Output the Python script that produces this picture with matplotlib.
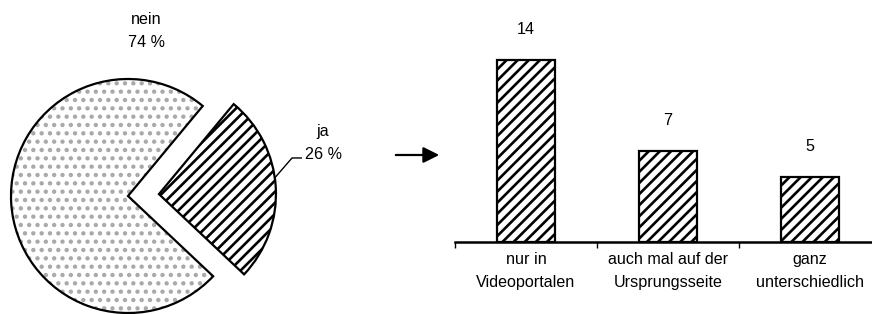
import numpy as np
import matplotlib.pyplot as plt
from matplotlib.patches import FancyArrowPatch, Wedge

# Daten
pie_labels = ['ja', 'nein']
pie_values = [26, 74]
bar_labels = ['nur in\nVideoportalen', 'auch mal auf der\nUrsprungsseite', 'ganz\nunterschiedlich']
bar_values = [14, 7, 5]

plt.rcParams['font.family'] = ['Liberation Sans', 'DejaVu Sans']
plt.rcParams['font.size'] = 11.6
plt.rcParams['hatch.linewidth'] = 1.9

fig = plt.figure(figsize=(8.72, 3.14), dpi=100)

# --- Kreisdiagramm ---
ax_pie = fig.add_axes([0, 0, 400 / 872, 1])
start = -43.3
explode = 0.265
wedges, _ = ax_pie.pie(pie_values, startangle=start, explode=[explode, 0],
                       colors=['white', 'white'], counterclock=True,
                       wedgeprops=dict(edgecolor='black', linewidth=1.6))
wedges[0].set_hatch('///')

# "nein"-Segment: graue Punkte, darüber schwarze Kontur
w = wedges[1]
w.set_hatch('..')
w.set_edgecolor('#a8a8a8')
w.set_linewidth(0)
outline = Wedge(w.center, w.r, w.theta1, w.theta2, facecolor='none',
                edgecolor='black', linewidth=1.6)
ax_pie.add_patch(outline)

ax_pie.set_xlim(-128 / 117, 272 / 117)
ax_pie.set_ylim(-118 / 117, 196 / 117)
ax_pie.set_aspect('auto')
ax_pie.axis('off')

ax_pie.text(0.154, 1.41, f'{pie_labels[1]}\n{pie_values[1]} %', ha='center', va='center',
            linespacing=1.65)
ax_pie.text(1.667, 0.45, f'{pie_labels[0]}\n{pie_values[0]} %', ha='center', va='center',
            linespacing=1.65)

# Verbindungslinie zum "ja"-Label
mid = np.deg2rad(start + pie_values[0] / 100 * 360 / 2)
cx, cy = explode * np.cos(mid), explode * np.sin(mid)
th = np.deg2rad(8)
ax_pie.plot([cx + np.cos(th), 1.402, 1.487], [cy + np.sin(th), 0.325, 0.325],
            color='black', lw=1.0, solid_capstyle='butt')

# --- Pfeil ---
fig.add_artist(FancyArrowPatch(
    (393 / 872, 0.5064), (442 / 872, 0.5064), transform=fig.transFigure,
    arrowstyle='-|>', mutation_scale=24, lw=1.6, color='black'))

# --- Balkendiagramm ---
ax_bar = fig.add_axes([455 / 872, 72 / 314, 1 - 455 / 872, 242 / 314])
x = np.arange(len(bar_values))
bars = ax_bar.bar(x, bar_values, width=0.41, color='white', edgecolor='black',
                  linewidth=1.6, hatch='///')
for b, v in zip(bars, bar_values):
    ax_bar.annotate(str(v), (b.get_x() + b.get_width() / 2, v), xytext=(0, 22),
                    textcoords='offset points', ha='center', va='center')

ax_bar.set_xlim(-0.5, 2.437)
ax_bar.set_ylim(0, 242 / 13)
for s in ['top', 'right', 'left']:
    ax_bar.spines[s].set_visible(False)
ax_bar.spines['bottom'].set_linewidth(1.8)
ax_bar.set_yticks([])
ax_bar.set_xticks([-0.5, 0.5, 1.5])
ax_bar.set_xticklabels([])
ax_bar.tick_params(axis='x', which='major', direction='out', length=4, width=1.0)
ax_bar.set_xticks(x, minor=True)
ax_bar.set_xticklabels(bar_labels, minor=True, linespacing=1.65)
ax_bar.tick_params(axis='x', which='minor', length=0, pad=7)

fig.savefig('out.png', dpi=100)
